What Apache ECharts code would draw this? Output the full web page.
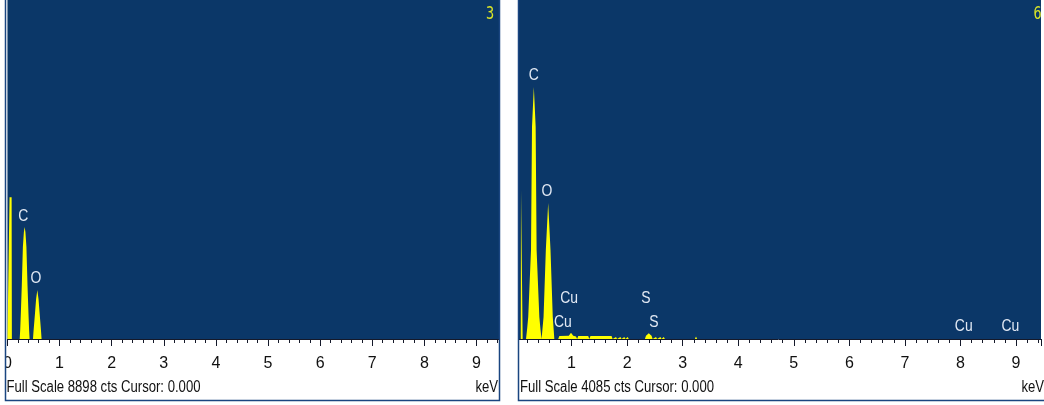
<!DOCTYPE html>
<html><head><meta charset="utf-8">
<script src="https://cdn.jsdelivr.net/npm/echarts@6/dist/echarts.min.js"></script>
<style>html,body{margin:0;padding:0;background:#fff}#c{width:1044px;height:405px}</style>
</head><body><div id="c"></div>
<script>
// ---- data ----
const keVMax = 9.45;
const leftFullScale = 8898;
const rightFullScale = 4085;
const leftTitle = 'Full Scale 8898 cts Cursor: 0.000';
const rightTitle = 'Full Scale 4085 cts Cursor: 0.000';
const leftCorner = '3';
const rightCorner = '6';
const unitLabel = 'keV';

const leftKeV =    [0, 0.035, 0.04, 0.08, 0.085, 0.235, 0.245, 0.257, 0.275, 0.296, 0.315, 0.33, 0.345, 0.364, 0.385, 0.403, 0.415, 0.425, 0.49, 0.50, 0.529, 0.55, 0.573, 0.596, 0.617, 0.645, 0.655, 9.45];
const leftCounts = [0, 0,     3720, 3720, 0,     0,     250,   682,   1400,  2415,  2800,  2940, 2800,  2415,  1400,  682,   250,   0,     0,    200,  682,   1050, 1286,  1050,  682,   200,   0,     0];

const rightKeV =    [0, 0.085, 0.09, 0.115, 0.12, 0.18, 0.20, 0.22, 0.27, 0.288, 0.321, 0.354, 0.371, 0.42, 0.44, 0.46, 0.47, 0.496, 0.537, 0.579, 0.621, 0.662, 0.69,
                     0.76, 0.78, 0.95, 0.99, 1.03, 1.08, 1.10, 1.12, 1.30, 1.32, 1.34, 1.72, 1.74, 1.80, 1.82, 1.88, 1.90, 1.95, 1.97, 2.01, 2.03,
                     2.32, 2.34, 2.39, 2.44, 2.46, 2.52, 2.54, 2.60, 2.62, 2.66, 2.68, 3.22, 3.24, 3.26, 9.45];
const rightCounts = [0, 0,     1795, 1795,  0,    0,    120,  265,  1072, 2555,  3037,  2555,  1072,  265,  120,  0,    0,    265,   1072,  1639,  1072,  265,   0,
                     0,    35,   40,   75,   40,   30,   0,    35,   35,   0,    35,   35,   0,    25,   0,    25,   0,    25,   0,    25,   0,
                     0,    40,   70,   40,   0,    25,   0,    25,   0,    25,   0,    0,    30,   0,    0];

const leftLabelNames  = ['C', 'O'];
const leftLabelKeV    = [0.305, 0.547];
const leftLabelCounts = [3230, 1590];

const rightLabelNames  = ['C', 'O', 'Cu', 'Cu', 'S', 'S', 'Cu', 'Cu'];
const rightLabelKeV    = [0.32, 0.555, 0.955, 0.845, 2.34, 2.48, 8.06, 8.9];
const rightLabelCounts = [3180, 1780, 490, 200, 490, 200, 150, 150];

// ---- styles ----
const FONT = '"Liberation Sans", Arial, sans-serif';
const BLUE = '#0b3768';
const YELLOW = '#ffff00';
const BORDER = '#1a4580';
const NARROW = 0.82;

function zip(a, b) { return a.map((v, i) => [v, b[i]]); }

function xAxis(idx, showMin) {
  return {
    type: 'value', gridIndex: idx, min: 0, max: keVMax, interval: 1,
    axisLine: { show: true, onZero: false, lineStyle: { color: '#15192a', width: 1 } },
    axisTick: { show: true, length: 7, lineStyle: { color: '#15192a' } },
    minorTick: { show: true, splitNumber: 5, length: 4, lineStyle: { color: '#15192a' } },
    splitLine: { show: false },
    axisLabel: {
      fontSize: 16, fontFamily: FONT, color: '#111', margin: 17, showMinLabel: showMin,
      formatter: v => (Math.abs(v - Math.round(v)) < 1e-9 ? String(Math.round(v)) : '')
    }
  };
}
function yAxis(idx, max) {
  return { type: 'value', gridIndex: idx, min: 0, max: max, show: false };
}
function spectrum(idx, data) {
  return {
    type: 'line', xAxisIndex: idx, yAxisIndex: idx, data: data, symbol: 'none',
    lineStyle: { width: 0 }, areaStyle: { color: YELLOW, opacity: 1 },
    silent: true, animation: false, clip: true, z: 3
  };
}
function txt(x, y, s, align, size, color, font, sx) {
  return { type: 'text', z: 102, x: x, y: y, scaleX: sx, scaleY: 1, silent: true,
    style: { text: s, font: size + 'px ' + font, fill: color, align: align, verticalAlign: 'middle' } };
}

const baseGraphic = [
  { type: 'rect', z: 100, shape: { x: 0, y: 0, width: 5.5, height: 405 }, style: { fill: '#fff' } },
  { type: 'rect', z: 100, shape: { x: 500, y: 0, width: 18.5, height: 405 }, style: { fill: '#fff' } },
  { type: 'rect', z: 101, shape: { x: 5.5, y: -2, width: 494, height: 402.5 }, style: { fill: 'none', stroke: BORDER, lineWidth: 1.5 } },
  { type: 'rect', z: 101, shape: { x: 518.5, y: -2, width: 540, height: 402.5 }, style: { fill: 'none', stroke: BORDER, lineWidth: 1.5 } },
  txt(6.5, 388, leftTitle, 'left', 16, '#111', FONT, NARROW),
  txt(498, 388, unitLabel, 'right', 16, '#111', FONT, NARROW),
  txt(520, 388, rightTitle, 'left', 16, '#111', FONT, NARROW),
  txt(1044, 388, unitLabel, 'right', 16, '#111', FONT, NARROW),
  txt(490, 15, leftCorner, 'center', 17, '#dce626', '"DejaVu Sans Mono", monospace', 0.8),
  txt(1037.5, 15, rightCorner, 'center', 17, '#dce626', '"DejaVu Sans Mono", monospace', 0.8)
];

const chart = echarts.init(document.getElementById('c'), null, { renderer: 'canvas' });
chart.setOption({
  animation: false,
  backgroundColor: '#ffffff',
  grid: [
    { left: 5, top: 0, width: 495, height: 339, show: true, backgroundColor: BLUE, borderWidth: 0 },
    { left: 516, top: 0, width: 530, height: 339, show: true, backgroundColor: BLUE, borderWidth: 0 }
  ],
  xAxis: [xAxis(0, true), xAxis(1, false)],
  yAxis: [yAxis(0, leftFullScale), yAxis(1, rightFullScale)],
  series: [
    spectrum(0, zip(leftKeV, leftCounts)),
    spectrum(1, zip(rightKeV, rightCounts))
  ],
  graphic: baseGraphic
});

// element labels placed through the chart's own scales, drawn as narrow text
function elementLabels(gridIndex, names, kev, cts) {
  return names.map((n, i) => {
    const p = chart.convertToPixel({ gridIndex: gridIndex }, [kev[i], cts[i]]);
    return txt(p[0], p[1], n, 'center', 17, '#e2e9f4', FONT, NARROW);
  });
}
chart.setOption({
  graphic: baseGraphic
    .concat(elementLabels(0, leftLabelNames, leftLabelKeV, leftLabelCounts))
    .concat(elementLabels(1, rightLabelNames, rightLabelKeV, rightLabelCounts))
});
</script>
</body></html>
